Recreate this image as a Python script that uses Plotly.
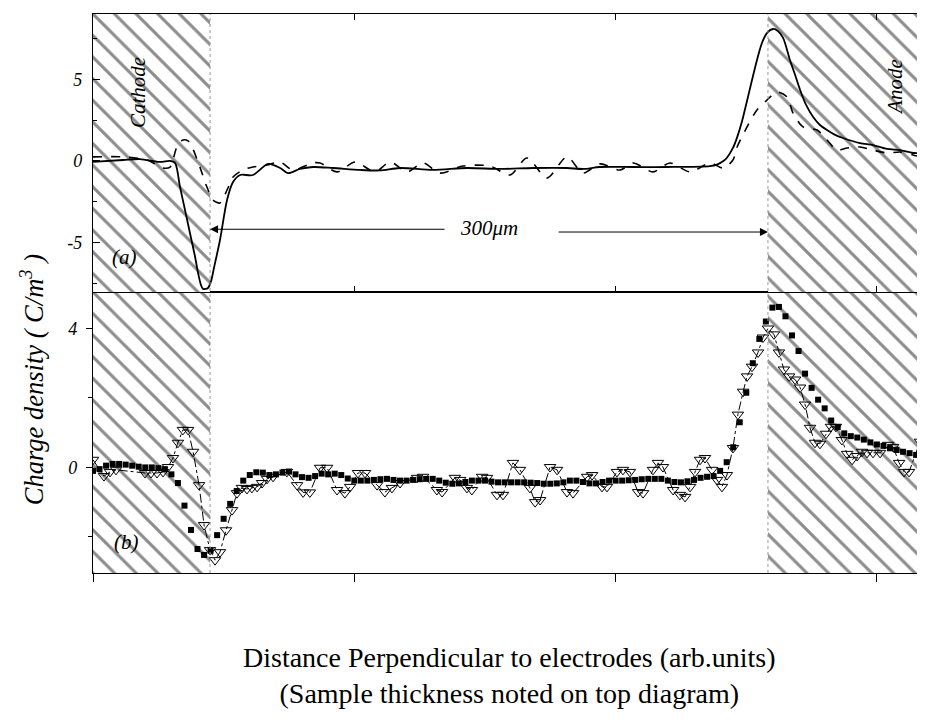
import plotly.graph_objects as go

# ---------------- data: panel (a) ----------------
a_solid_x = [0.000, 0.115, 0.180, 0.256, 0.295, 0.314, 0.333, 0.352, 0.371, 0.390, 0.402, 0.413, 0.421,
             0.440, 0.452, 0.463, 0.486, 0.513, 0.536, 0.563, 0.612, 0.670, 0.716, 0.746, 0.792, 0.842,
             0.918, 1.022, 1.098, 1.175, 1.301, 1.431, 1.558, 1.684, 1.814, 1.875, 1.940, 2.067, 2.197,
             2.361, 2.388, 2.411, 2.426, 2.449, 2.465, 2.484, 2.503, 2.522, 2.541, 2.560, 2.579, 2.602,
             2.621, 2.641, 2.667, 2.687, 2.706, 2.729, 2.756, 2.782, 2.809, 2.840, 2.870, 2.935, 2.985,
             3.039, 3.088, 3.138, 3.184]
a_solid_y = [-0.06, 0.06, 0.12, -0.06, 0.00, -0.12, -1.60, -3.00, -4.42, -5.83, -6.87, -7.60, -7.85,
             -7.79, -7.36, -6.56, -4.85, -2.39, -1.29, -0.86, -0.86, -0.18, -0.43, -0.74, -0.49, -0.37,
             -0.43, -0.55, -0.58, -0.43, -0.55, -0.43, -0.49, -0.43, -0.43, -0.49, -0.37, -0.37, -0.37,
             -0.31, -0.22, -0.02, 0.20, 0.80, 1.45, 2.45, 3.70, 4.97, 6.20, 7.24, 7.85, 8.10,
             7.98, 7.55, 6.20, 5.28, 4.36, 3.44, 2.70, 2.21, 1.90, 1.60, 1.41, 1.10, 0.98,
             0.74, 0.67, 0.49, 0.49]

a_dash_x = [0.000, 0.115, 0.207, 0.268, 0.295, 0.321, 0.344, 0.364, 0.379, 0.409, 0.436, 0.459, 0.486,
            0.513, 0.536, 0.574, 0.612, 0.666, 0.716, 0.765, 0.842, 0.869, 0.934, 1.003, 1.079, 1.137,
            1.202, 1.263, 1.328, 1.416, 1.519, 1.596, 1.661, 1.737, 1.814, 1.875, 1.940, 2.017, 2.067,
            2.143, 2.208, 2.285, 2.361, 2.411, 2.449, 2.465, 2.503, 2.541, 2.579, 2.618, 2.656, 2.679,
            2.717, 2.771, 2.809, 2.847, 2.886, 2.935, 2.985, 3.039, 3.088, 3.138, 3.184]
a_dash_y = [0.25, 0.25, 0.06, -0.43, -0.37, 0.86, 1.29, 1.23, 0.86, -0.37, -1.60, -2.39, -2.58,
            -1.78, -0.98, -0.55, -0.37, -0.25, -0.06, -0.55, -0.12, -0.12, -0.67, -0.06, -0.67, -0.06,
            -0.67, -0.12, -0.74, -0.31, -0.31, -0.86, 0.18, -1.04, 0.25, -0.74, -0.18, -0.55, -0.12,
            -0.67, -0.12, -0.67, -0.12, -0.43, 0.06, 0.86, 2.09, 3.13, 3.74, 4.23, 3.93, 2.94,
            2.09, 1.90, 1.29, 0.67, 0.80, 0.86, 0.67, 0.49, 0.55, 0.37, 0.18]

# ---------------- data: panel (b) ----------------
b_sq_x = [0.000, 0.025, 0.050, 0.075, 0.100, 0.125, 0.150, 0.175, 0.200, 0.225, 0.250, 0.275, 0.300,
          0.325, 0.350, 0.375, 0.400, 0.425, 0.450, 0.475, 0.500, 0.525, 0.550, 0.575, 0.600, 0.625,
          0.650, 0.675, 0.700, 0.725, 0.750, 0.775, 0.800, 0.825, 0.850, 0.875, 0.900, 0.925, 0.950,
          0.975, 1.000, 1.025, 1.050, 1.075, 1.100, 1.125, 1.150, 1.175, 1.200, 1.225, 1.250, 1.275,
          1.300, 1.325, 1.350, 1.375, 1.400, 1.425, 1.450, 1.475, 1.500, 1.525, 1.550, 1.575, 1.600,
          1.625, 1.650, 1.675, 1.700, 1.725, 1.750, 1.775, 1.800, 1.825, 1.850, 1.875, 1.900, 1.925,
          1.950, 1.975, 2.000, 2.025, 2.050, 2.075, 2.100, 2.125, 2.150, 2.175, 2.200, 2.225, 2.250,
          2.275, 2.300, 2.325, 2.350, 2.375, 2.400, 2.425, 2.450, 2.475, 2.500, 2.525, 2.550, 2.575,
          2.600, 2.625, 2.650, 2.675, 2.700, 2.725, 2.750, 2.775, 2.800, 2.825, 2.850, 2.875, 2.900,
          2.925, 2.950, 2.975, 3.000, 3.025, 3.050, 3.075, 3.100, 3.125, 3.150, 3.175, 3.200]
b_sq_y = [-0.10, -0.05, 0.05, 0.10, 0.10, 0.08, 0.05, 0.02, 0.00, 0.00, -0.02, -0.05,
          -0.20, -0.45, -1.10, -1.80, -2.35, -2.52, -2.40, -1.95, -1.48, -1.05, -0.68, -0.38, -0.22, -0.14,
          -0.15, -0.22, -0.20, -0.15, -0.12, -0.20, -0.28, -0.30, -0.25, -0.18, -0.20,
          -0.18, -0.22, -0.32, -0.38, -0.38, -0.38, -0.36, -0.34, -0.33, -0.36, -0.38, -0.38, -0.36,
          -0.34, -0.33, -0.33, -0.38, -0.44, -0.47, -0.46, -0.42, -0.38, -0.38, -0.38, -0.41, -0.43,
          -0.43, -0.43, -0.43, -0.43, -0.44, -0.45, -0.47, -0.47, -0.46, -0.43, -0.38, -0.38, -0.42,
          -0.46, -0.46, -0.42, -0.38, -0.38, -0.38, -0.37, -0.36, -0.34, -0.33, -0.33, -0.33, -0.38,
          -0.42, -0.43, -0.40, -0.36, -0.30, -0.27, -0.25,
          -0.10, 0.15, 0.58, 1.30, 2.15, 3.00, 3.70, 4.20, 4.60, 4.62, 4.35, 3.80, 3.35, 2.70, 2.29,
          1.95, 1.70, 1.35, 1.16, 0.98, 0.90, 0.86, 0.80, 0.72, 0.66, 0.62, 0.55, 0.50, 0.45, 0.41,
          0.36, 0.30, 0.29]

b_tri_x = [0.000, 0.042, 0.065, 0.088, 0.199, 0.222, 0.245, 0.268, 0.287, 0.306, 0.325, 0.344, 0.364,
           0.383, 0.406, 0.425, 0.448, 0.467, 0.486, 0.509, 0.532, 0.551, 0.570, 0.589, 0.608, 0.628,
           0.647, 0.666, 0.689, 0.742, 0.781, 0.804, 0.830, 0.869, 0.896, 0.934, 0.964, 0.984, 1.014,
           1.041, 1.087, 1.117, 1.144, 1.175, 1.240, 1.263, 1.316, 1.336, 1.385, 1.405, 1.431, 1.450,
           1.489, 1.508, 1.546, 1.569, 1.607, 1.634, 1.672, 1.692, 1.711, 1.749, 1.776, 1.814, 1.837,
           1.891, 1.910, 1.948, 1.967, 2.005, 2.028, 2.055, 2.086, 2.105, 2.143, 2.162, 2.181, 2.220,
           2.246, 2.266, 2.285, 2.304, 2.323, 2.342, 2.369, 2.388, 2.407, 2.426, 2.449, 2.468, 2.488,
           2.503, 2.522, 2.545, 2.564, 2.583, 2.606, 2.625, 2.644, 2.664, 2.687, 2.706, 2.725, 2.744,
           2.763, 2.782, 2.805, 2.824, 2.843, 2.866, 2.886, 2.905, 2.924, 2.943, 2.962, 2.985, 3.012,
           3.043, 3.062, 3.085, 3.104, 3.123, 3.165, 3.184]
b_tri_y = [0.22, -0.25, -0.13, -0.07, -0.16, -0.16, -0.16, -0.13, 0.01, 0.27, 0.71, 1.08, 1.08,
           0.45, -0.51, -1.66, -2.38, -2.67, -2.44, -1.81, -1.23, -0.74, -0.59, -0.62, -0.59, -0.56,
           -0.45, -0.33, -0.27, -0.13, -0.51, -0.72, -0.72, -0.01, -0.01, -0.65, -0.74, -0.56, -0.16,
           -0.16, -0.51, -0.71, -0.59, -0.45, -0.30, -0.27, -0.65, -0.71, -0.30, -0.36, -0.59, -0.65,
           -0.27, -0.30, -0.79, -0.79, 0.13, -0.07, -0.59, -1.00, -0.94, 0.01, -0.07, -0.71, -0.74,
           -0.27, -0.22, -0.56, -0.56, -0.13, -0.07, -0.13, -0.71, -0.74, -0.07, 0.13, 0.01, -0.65,
           -0.79, -0.85, -0.56, -0.13, 0.22, 0.27, -0.07, -0.36, -0.56, -0.22, 0.56, 1.52, 2.18,
           2.62, 2.90, 3.31, 3.74, 4.00, 3.83, 3.31, 2.82, 2.62, 2.53, 2.30, 1.81, 1.14,
           0.71, 0.68, 0.97, 1.17, 1.17, 0.79, 0.39, 0.22, 0.33, 0.45, 0.42, 0.42, 0.42,
           0.65, 0.59, 0.13, -0.13, -0.13, 0.74, 0.59]

x_ticks = [0, 1, 2, 3]
top_ticks = [-5, 0, 5]
top_tick_text = ["-5", "0", "5"]
top_minor = [-7.5, -2.5, 2.5, 7.5]
bot_ticks = [0, 4]
bot_tick_text = ["0", "4"]
bot_minor = [-2, 2]

cathode_end = 0.448
anode_start = 2.583
x_max = 3.184
top_range = [-8.04, 9.02]
bot_range = [-3.04, 5.05]

SERIF = "Liberation Serif, Times New Roman, Times, DejaVu Serif, serif"
split = 281 / 559

fig = go.Figure()

hatch = dict(shape="\\", fgcolor="#1a1a1a", bgcolor="white", size=15.3, solidity=0.2)


def add_hatch(x0, x1, rng, xa, ya):
    fig.add_trace(go.Scatter(
        x=[x0, x1, x1, x0, x0], y=[rng[0], rng[0], rng[1], rng[1], rng[0]],
        mode="lines", line=dict(width=0), fill="toself", fillcolor="white",
        fillpattern=hatch, hoverinfo="skip", showlegend=False, xaxis=xa, yaxis=ya))


for xa, ya, rng in [("x2", "y2", top_range), ("x", "y", bot_range)]:
    add_hatch(0, cathode_end, rng, xa, ya)
    add_hatch(anode_start, x_max + 0.05, rng, xa, ya)

# panel (a)
fig.add_trace(go.Scatter(x=a_dash_x, y=a_dash_y, mode="lines",
                         line=dict(color="black", width=1.6, dash="dash", shape="spline", smoothing=0.8),
                         xaxis="x2", yaxis="y2", showlegend=False))
fig.add_trace(go.Scatter(x=a_solid_x, y=a_solid_y, mode="lines",
                         line=dict(color="black", width=1.8, shape="spline", smoothing=0.8),
                         xaxis="x2", yaxis="y2", showlegend=False))

# panel (b)
fig.add_trace(go.Scatter(x=b_tri_x, y=b_tri_y, mode="lines+markers",
                         line=dict(color="black", width=1, dash="dashdot"),
                         marker=dict(symbol="triangle-down-open", size=10, color="black",
                                     line=dict(width=1, color="black")),
                         xaxis="x", yaxis="y", showlegend=False))
fig.add_trace(go.Scatter(x=b_sq_x, y=b_sq_y, mode="markers",
                         marker=dict(symbol="square", size=6, color="black"),
                         xaxis="x", yaxis="y", showlegend=False))

tickfont = dict(family=SERIF, size=18, color="black", style="italic")
axis_common = dict(showgrid=False, zeroline=False, showline=True, linecolor="black", linewidth=1.2)

# the page body adds an 8px offset, so the figure is sized/margined to compensate
fig.update_layout(
    width=917, height=714,
    margin=dict(l=85, r=0, t=6, b=149),
    paper_bgcolor="white", plot_bgcolor="white",
    font=dict(family=SERIF, color="black"),
    xaxis=dict(domain=[0, 1], anchor="y", range=[0, x_max], tickvals=x_ticks, ticks="outside",
               ticklen=8, tickcolor="black", showticklabels=False, mirror=True, **axis_common),
    yaxis=dict(domain=[0, split], anchor="x", range=bot_range, tickvals=bot_ticks,
               ticktext=bot_tick_text, ticks="outside", ticklen=6, tickcolor="black",
               tickfont=tickfont, ticklabelstandoff=5,
               minor=dict(tickvals=bot_minor, ticks="outside", ticklen=4, tickcolor="black"),
               **axis_common),
    xaxis2=dict(domain=[0, 1], anchor="y2", range=[0, x_max], tickvals=x_ticks[1:], ticks="inside",
                ticklen=6, tickcolor="black", showticklabels=False, mirror="ticks", **axis_common),
    yaxis2=dict(domain=[split, 1], anchor="x2", range=top_range, tickvals=top_ticks,
                ticktext=top_tick_text, ticks="inside", ticklen=7, tickcolor="black",
                tickfont=tickfont, ticklabelstandoff=6,
                minor=dict(tickvals=top_minor, ticks="inside", ticklen=4, tickcolor="black"),
                **axis_common),
)

for xv in [cathode_end, anode_start]:
    fig.add_shape(type="line", xref="x", yref="paper", x0=xv, x1=xv, y0=0, y1=1,
                  line=dict(color="#999999", width=1, dash="dot"))

lab = dict(family=SERIF, size=21, color="black", style="italic")
fig.add_annotation(x=0.172, y=4.23, xref="x2", yref="y2", text="Cathode", textangle=-90,
                   showarrow=False, font=lab)
fig.add_annotation(x=3.069, y=4.54, xref="x2", yref="y2", text="Anode", textangle=-90,
                   showarrow=False, font=lab)
fig.add_annotation(x=0.122, y=-5.89, xref="x2", yref="y2", text="(a)", showarrow=False, font=lab)
fig.add_annotation(x=0.130, y=-2.15, xref="x", yref="y", text="(b)", showarrow=False, font=lab)
fig.add_annotation(x=1.515, y=-4.11, xref="x2", yref="y2", text="300μm", showarrow=False, font=lab)
# dimension arrows
fig.add_annotation(x=cathode_end, y=-4.19, ax=1.351, ay=-4.19, xref="x2", yref="y2",
                   axref="x2", ayref="y2", text="", showarrow=True, arrowhead=2,
                   arrowsize=1.6, arrowwidth=1, arrowcolor="black")
fig.add_annotation(x=anode_start, y=-4.36, ax=1.776, ay=-4.36, xref="x2", yref="y2",
                   axref="x2", ayref="y2", text="", showarrow=True, arrowhead=2,
                   arrowsize=1.6, arrowwidth=1, arrowcolor="black")

# axis titles
fig.add_annotation(x=-0.0733, y=0.345, xref="paper", yref="paper", xanchor="center", yanchor="middle",
                   text="Charge density ( C/m<sup>3</sup> )", textangle=-90, showarrow=False,
                   font=dict(family=SERIF, size=26.5, color="black", style="italic"))
fig.add_annotation(x=0.501, y=-0.184, xref="paper", yref="paper", xanchor="center", yanchor="middle",
                   text="Distance Perpendicular to electrodes (arb.units)<br>"
                        "(Sample thickness noted on top diagram)",
                   showarrow=False, align="center",
                   font=dict(family=SERIF, size=28, color="black"))

fig.write_html("out.html")
